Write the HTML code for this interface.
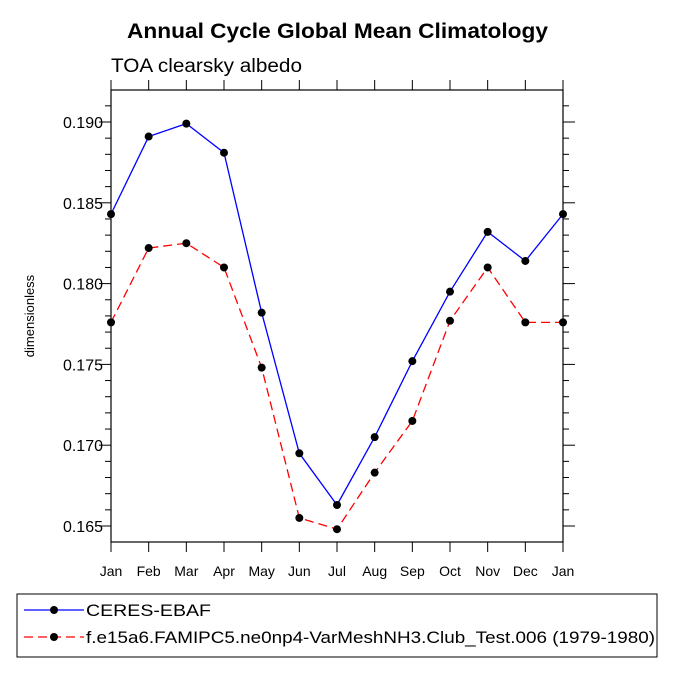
<!DOCTYPE html>
<html><head><meta charset="utf-8"><style>body{margin:0;background:#fff}svg{display:block}text{font-family:"Liberation Sans",sans-serif}</style></head>
<body>
<svg id="chart" width="675" height="675">
<text x="127" y="38" textLength="421" lengthAdjust="spacingAndGlyphs" font-size="21" font-weight="bold">Annual Cycle Global Mean Climatology</text>
<text x="111" y="72" textLength="191" lengthAdjust="spacingAndGlyphs" font-size="19">TOA clearsky albedo</text>
<text transform="translate(34,316) rotate(-90)" text-anchor="middle" font-size="13">dimensionless</text>
<g id="axes"></g>
<g id="series"></g>
<rect x="17" y="594" width="640" height="63" fill="none" stroke="#000" stroke-width="1"/>
<g>
<line x1="24" y1="610" x2="84" y2="610" stroke="#0000ff" stroke-width="1.3"/><circle cx="54" cy="610" r="4" fill="#000"/>
<text x="86" y="616" textLength="125" lengthAdjust="spacingAndGlyphs" font-size="17">CERES-EBAF</text></g>
<g>
<line x1="24" y1="637" x2="84" y2="637" stroke="#ff0000" stroke-width="1.3" stroke-dasharray="9,5"/><circle cx="54" cy="637" r="4" fill="#000"/>
<text x="86" y="643" textLength="569" lengthAdjust="spacingAndGlyphs" font-size="17">f.e15a6.FAMIPC5.ne0np4-VarMeshNH3.Club_Test.006 (1979-1980)</text></g>
</svg>
<script>
const months = ["Jan","Feb","Mar","Apr","May","Jun","Jul","Aug","Sep","Oct","Nov","Dec","Jan"];
const ceres = [0.1843,0.1891,0.1899,0.1881,0.1782,0.1695,0.1663,0.1705,0.1752,0.1795,0.1832,0.1814,0.1843];
const model = [0.1776,0.1822,0.1825,0.1810,0.1748,0.1655,0.1648,0.1683,0.1715,0.1777,0.1810,0.1776,0.1776];
const yTicks = [0.165,0.170,0.175,0.180,0.185,0.190];
const yTickLabels = ["0.165","0.170","0.175","0.180","0.185","0.190"];
const X0=111,X1=563,Y0=90,Y1=542,YMIN=0.16401,YMAX=0.19198;
const NS="http://www.w3.org/2000/svg";
function xs(i){return X0+(X1-X0)*i/(months.length-1);}
function ys(v){return Y1-(v-YMIN)/(YMAX-YMIN)*(Y1-Y0);}
function mk(tag,attrs,parent){const e=document.createElementNS(NS,tag);for(const k in attrs)e.setAttribute(k,attrs[k]);parent.appendChild(e);return e;}
const ax=document.getElementById('axes');
const frame=mk('rect',{x:X0,y:Y0,width:X1-X0,height:Y1-Y0,fill:'none',stroke:'#000','stroke-width':1.2},ax);


months.forEach((m,i)=>{
  const x=xs(i);
  mk('line',{x1:x,y1:Y1,x2:x,y2:Y1+10,stroke:'#000'},ax);
  mk('line',{x1:x,y1:Y0,x2:x,y2:Y0-10,stroke:'#000'},ax);
  const t=mk('text',{x:x,y:Y1+34,'text-anchor':'middle','font-size':14},ax);
  t.textContent=m;
  
  
});
for(let k=164;k<=192;k++){
  const v=k/1000; if(v<YMIN||v>YMAX) continue;
  const y=ys(v); const major=(k%5===0); const L=major?12:6;
  mk('line',{x1:X0,y1:y,x2:X0-L,y2:y,stroke:'#000'},ax);
  mk('line',{x1:X1,y1:y,x2:X1+L,y2:y,stroke:'#000'},ax);
}
yTicks.forEach((v,i)=>{
  const t=mk('text',{x:X0-8,y:ys(v)+6,'text-anchor':'end','font-size':16},ax);
  t.textContent=yTickLabels[i];
  
  
});
const sg=document.getElementById('series');
function draw(vals,color,dash,name){
  const g=mk('g',{},sg);
  
  
  const pts=vals.map((v,i)=>xs(i)+','+ys(v)).join(' ');
  const a={points:pts,fill:'none',stroke:color,'stroke-width':1.3};
  if(dash)a['stroke-dasharray']=dash;
  mk('polyline',a,g);
  vals.forEach((v,i)=>{const c=mk('circle',{cx:xs(i),cy:ys(v),r:4,fill:'#000'},g);
    
    });
}
draw(ceres,'#0000ff',null,'ceres-series');
draw(model,'#ff0000','9,5','model-series');
</script>
</body></html>
